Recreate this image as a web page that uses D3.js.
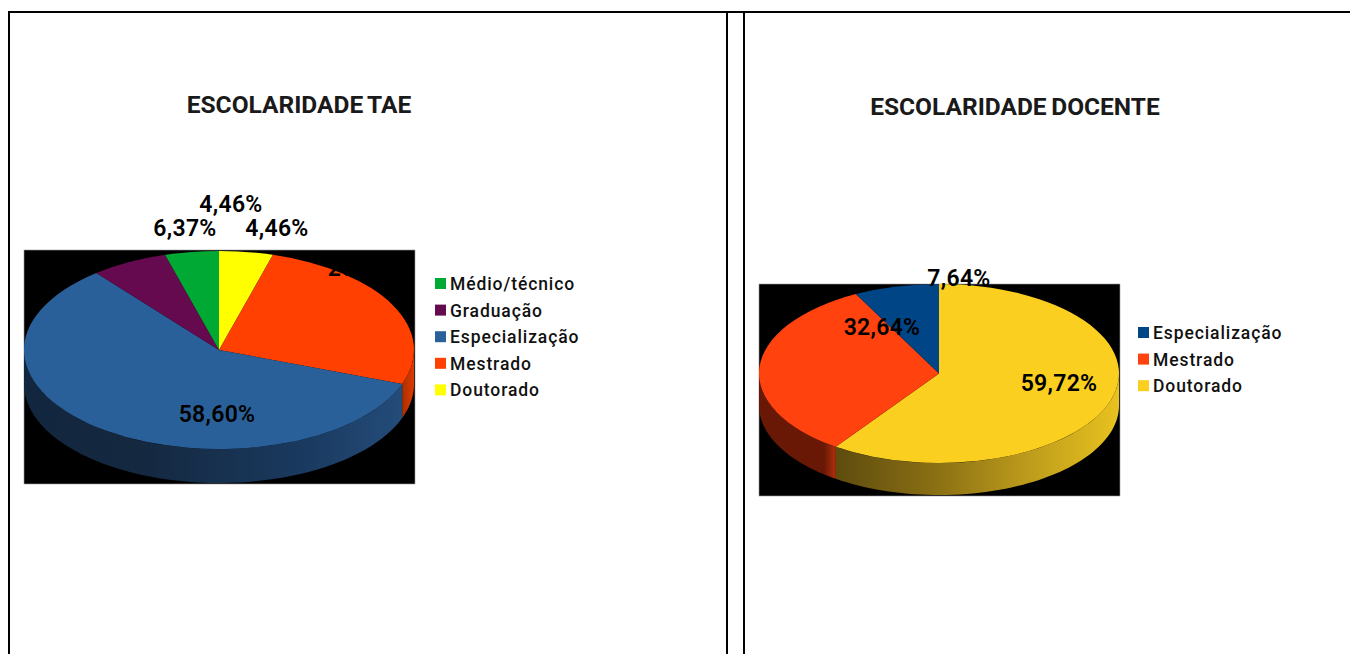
<!DOCTYPE html>
<html>
<head>
<meta charset="utf-8">
<script src="https://cdn.jsdelivr.net/npm/d3@7"></script>
<style>
  html, body { margin: 0; padding: 0; background: #fff; overflow: hidden; }
  text { font-family: Roboto, sans-serif; fill: #111; }
</style>
</head>
<body>
<div id="chart"></div>
<script>
// values, in drawing order (clockwise from 12 o'clock)
const taeCategories = ["Doutorado", "Mestrado", "Especialização", "Graduação", "Médio/técnico"];
const taeValues = [4.46, 26.11, 58.60, 6.37, 4.46];
const taeLegend = ["Médio/técnico", "Graduação", "Especialização", "Mestrado", "Doutorado"];

const docCategories = ["Doutorado", "Mestrado", "Especialização"];
const docValues = [59.72, 32.64, 7.64];
const docLegend = ["Especialização", "Mestrado", "Doutorado"];

const taeColors = { "Médio/técnico": "#00a933", "Graduação": "#650a4e", "Especialização": "#2a6099", "Mestrado": "#ff4000", "Doutorado": "#ffff00" };
const docColors = { "Especialização": "#004586", "Mestrado": "#ff420e", "Doutorado": "#facf1f" };

const w = 1350, h = 654;
const svg = d3.select("#chart").append("svg").attr("width", w).attr("height", h).style("display", "block");
const defs = svg.append("defs");

// page frames, the top rule runs across the gap between the two cells
svg.append("line").attr("x1", 8).attr("x2", w).attr("y1", 12).attr("y2", 12)
  .attr("stroke", "#000").attr("stroke-width", 2);
[9, 727, 744].forEach(x => {
  svg.append("line").attr("x1", x).attr("x2", x).attr("y1", 12).attr("y2", h)
    .attr("stroke", "#000").attr("stroke-width", 2);
});

const fmt = v => v.toFixed(2).replace(".", ",") + "%";

function drawPie(cfg) {
  const g = svg.append("g");

  // black plot background
  g.append("rect")
    .attr("x", cfg.box[0]).attr("y", cfg.box[1])
    .attr("width", cfg.box[2]).attr("height", cfg.box[3])
    .attr("fill", "#000").attr("stroke", "#999").attr("stroke-width", 0.6);

  const arcs = d3.pie().sort(null).value(d => d.value)(
    cfg.categories.map((c, i) => ({ name: c, value: cfg.values[i] }))
  );

  // side wall, only the front half of the disc shows
  const px = a => cfg.cx + cfg.rx * Math.sin(a);
  const py = a => cfg.cy - cfg.ry * Math.cos(a);
  arcs.forEach((d, i) => {
    const a0 = Math.max(d.startAngle, Math.PI / 2);
    const a1 = Math.min(d.endAngle, Math.PI * 1.5);
    if (a1 <= a0) return;

    const shade = cfg.shades[d.data.name];
    const id = cfg.id + "-side-" + i;
    const grad = defs.append("linearGradient").attr("id", id)
      .attr("gradientUnits", "userSpaceOnUse")
      .attr("x1", px(a1)).attr("x2", px(a0)).attr("y1", 0).attr("y2", 0);
    shade.forEach((c, k) => grad.append("stop")
      .attr("offset", c[0]).attr("stop-color", c[1]));

    const steps = d3.range(0, 61).map(k => a0 + (a1 - a0) * k / 60);
    const pts = steps.map(a => [px(a), py(a)])
      .concat(steps.slice().reverse().map(a => [px(a), py(a) + cfg.depth]));
    g.append("path")
      .attr("d", d3.line()(pts) + "Z")
      .attr("fill", "url(#" + id + ")");
  });

  // top face: a round pie squashed into an ellipse
  const arc = d3.arc().innerRadius(0).outerRadius(cfg.rx);
  g.append("g")
    .attr("transform", "translate(" + cfg.cx + "," + cfg.cy + ") scale(1," + (cfg.ry / cfg.rx) + ")")
    .selectAll("path")
    .data(arcs)
    .enter()
    .append("path")
    .attr("d", arc)
    .attr("fill", d => cfg.colors[d.data.name]);

  // title
  g.append("text")
    .attr("x", cfg.titleX).attr("y", cfg.titleY)
    .attr("text-anchor", "middle")
    .style("font-size", "24.5px").style("font-weight", 700).style("fill", "#1a1a1a")
    .style("word-spacing", "-1.5px")
    .text(cfg.title);

  // data labels
  g.selectAll("text.lab")
    .data(arcs)
    .enter()
    .append("text")
    .attr("class", "lab")
    .attr("x", (d, i) => cfg.labels[i][0])
    .attr("y", (d, i) => cfg.labels[i][1])
    .attr("text-anchor", "middle")
    .style("font-size", "23px").style("font-weight", 600).style("fill", "#000")
    .style("letter-spacing", "0.3px")
    .text(d => fmt(d.data.value));

  // legend
  const leg = g.selectAll("g.leg")
    .data(cfg.legend)
    .enter()
    .append("g")
    .attr("class", "leg")
    .attr("transform", (d, i) => "translate(" + cfg.legendX + "," + (cfg.legendY + i * 26.6) + ")");
  leg.append("rect")
    .attr("x", 0).attr("y", -6).attr("width", 11).attr("height", 11)
    .attr("fill", d => cfg.colors[d]);
  leg.append("text")
    .attr("x", 15).attr("y", 6)
    .style("font-size", "17.5px").style("font-weight", 500).style("fill", "#111")
    .style("letter-spacing", "0.9px")
    .text(d => d);
}

drawPie({
  id: "tae", title: "ESCOLARIDADE TAE", titleX: 299, titleY: 113,
  categories: taeCategories, values: taeValues, legend: taeLegend, colors: taeColors,
  box: [24, 250, 391, 234], cx: 219, cy: 350, rx: 195, ry: 99, depth: 34,
  shades: {
    "Mestrado": [[0, "#a83000"], [1, "#e03a00"]],
    "Especialização": [[0, "#12263f"], [0.3, "#14283f"], [0.75, "#1a3a60"], [1, "#244c7a"]]
  },
  labels: [[277, 236], [366, 276], [217, 422], [185, 236], [231, 212]],
  legendX: 435, legendY: 284
});

drawPie({
  id: "doc", title: "ESCOLARIDADE DOCENTE", titleX: 1015, titleY: 115,
  categories: docCategories, values: docValues, legend: docLegend, colors: docColors,
  box: [759, 284, 361, 212], cx: 939, cy: 373.5, rx: 180, ry: 89.5, depth: 32,
  shades: {
    "Doutorado": [[0, "#5e4c0e"], [0.35, "#8a6f14"], [0.7, "#c09e1c"], [1, "#e8c21f"]],
    "Mestrado": [[0, "#6a1806"], [0.85, "#6a1806"], [1, "#b0300c"]]
  },
  labels: [[1059, 391], [882, 335], [959, 286]],
  legendX: 1138, legendY: 333
});
</script>
</body>
</html>
